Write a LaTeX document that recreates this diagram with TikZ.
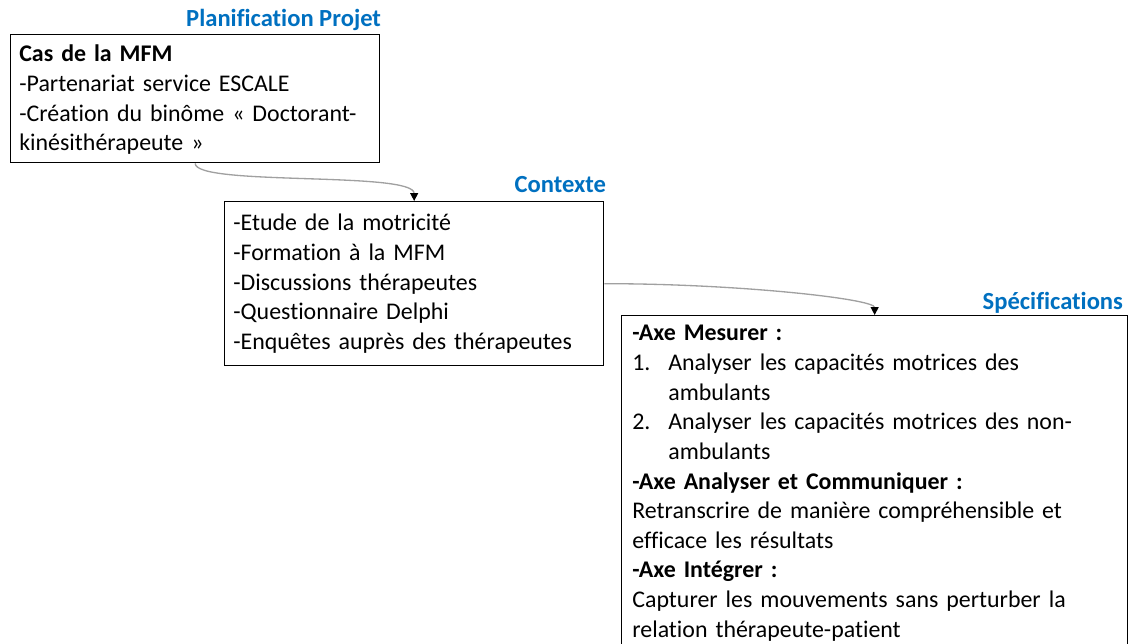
\documentclass[tikz,border=0pt]{standalone}
\usepackage{fontspec}
\setmainfont{Carlito}[Ligatures={NoCommon}]
\usepackage{tikz}
\usetikzlibrary{arrows.meta, positioning}

\definecolor{titleblue}{HTML}{0070C0}
\definecolor{linkgray}{HTML}{A0A0A0}

\begin{document}
\begin{tikzpicture}[
    x=0.02cm, y=-0.02cm,
    box/.style={rectangle, draw=black, line width=0.8pt, anchor=north west, inner sep=0pt},
    txt/.style={anchor=base west, inner sep=0pt, text width=9.8cm, align=left, font=\fontsize{13.6}{16.85}\selectfont},
    title/.style={anchor=base east, inner sep=0pt, text=titleblue, font=\fontsize{14}{16}\selectfont\bfseries},
    link/.style={draw=linkgray, line width=0.75pt, -{Triangle[length=4.5pt, width=4.5pt, black]}}
]
    \useasboundingbox (0,0) rectangle (1129,644);

    % Boxes
    \node[box, minimum width=7.38cm, minimum height=2.56cm] (plan) at (10,34) {};
    \node[box, minimum width=7.58cm, minimum height=3.28cm] (ctx) at (224,201) {};
    \node[box, minimum width=10.12cm, minimum height=6.9cm] (spec) at (621,315) {};

    % Titles
    \node[title] (plantitle) at ([shift={(1,-7)}]plan.north east) {Planification Projet};
    \node[title] (ctxtitle) at ([shift={(2,-8)}]ctx.north east) {Contexte};
    \node[title] (spectitle) at ([shift={(-5,-5)}]spec.north east) {Spécifications};

    % Texts
    \node[txt] (plantxt) at ([shift={(9,28)}]plan.north west) {%
        \textbf{Cas de la MFM}\\
        -Partenariat service ESCALE\\
        -Création du binôme « Doctorant-\\
        kinésithérapeute »};
    \node[txt] (ctxtxt) at ([shift={(9,30)}]ctx.north west) {%
        -Etude de la motricité\\
        -Formation à la MFM\\
        -Discussions thérapeutes\\
        -Questionnaire Delphi\\
        -Enquêtes auprès des thérapeutes};
    \node[txt] (spectxt) at ([shift={(11,26)}]spec.north west) {%
        \textbf{-Axe Mesurer :}\\
        \makebox[0.72cm][l]{1.}Analyser les capacités motrices des\\
        \hspace*{0.72cm}ambulants\\
        \makebox[0.72cm][l]{2.}Analyser les capacités motrices des non-\\
        \hspace*{0.72cm}ambulants\\
        \textbf{-Axe Analyser et Communiquer :}\\
        Retranscrire de manière compréhensible et\\
        efficace les résultats\\
        \textbf{-Axe Intégrer :}\\
        Capturer les mouvements sans perturber la\\
        relation thérapeute-patient};

    % Connectors
    \draw[link] (plan.south) .. controls +(0,23) and +(0,-30) .. (ctx.north);
    \draw[link] (ctx.east) .. controls +(135,0) and +(0,-16) .. (spec.north);
\end{tikzpicture}
\end{document}
